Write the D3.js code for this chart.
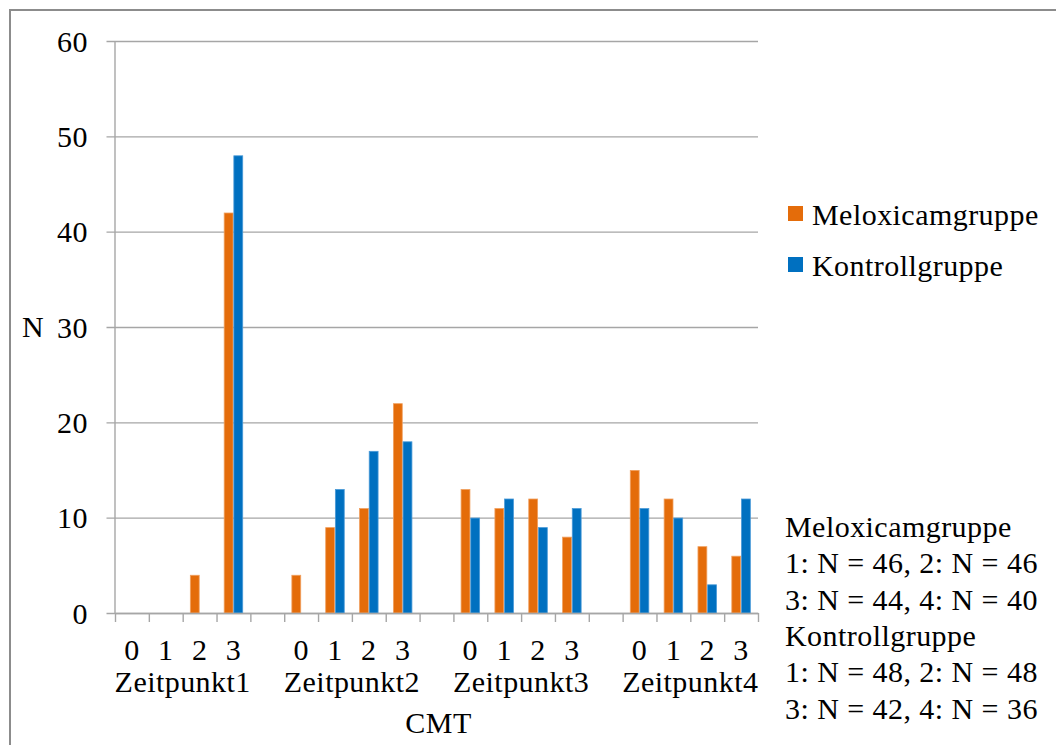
<!DOCTYPE html>
<html>
<head>
<meta charset="utf-8">
<script src="https://cdn.jsdelivr.net/npm/d3@7"></script>
<style>
    body { margin: 0; background: #fff; }
    svg text { font-family: "Liberation Serif", "Times New Roman", serif; fill: #000; letter-spacing: 0.45px; }
</style>
</head>
<body>
<svg id="chart"></svg>
<script>
// Data
const groups = ['Zeitpunkt1', 'Zeitpunkt2', 'Zeitpunkt3', 'Zeitpunkt4'];
const categories = ['0', '1', '2', '3'];
const seriesNames = ['Meloxicamgruppe', 'Kontrollgruppe'];
const meloxicam = [0, 0, 4, 42, 4, 9, 11, 22, 13, 11, 12, 8, 15, 12, 7, 6];
const kontroll = [0, 0, 0, 48, 0, 13, 17, 18, 10, 12, 9, 11, 11, 10, 3, 12];
const yTicks = [0, 10, 20, 30, 40, 50, 60];
const noteLines = [
    'Meloxicamgruppe',
    '1: N = 46, 2: N = 46',
    '3: N = 44, 4: N = 40',
    'Kontrollgruppe',
    '1: N = 48, 2: N = 48',
    '3: N = 42, 4: N = 36'
];
const colors = ['#E46C0A', '#0070C0'];
const edgeColors = ['#F0A060', '#4A9AD8'];

const W = 1056, H = 745;
const margin = { left: 115, right: 298, top: 41, bottom: 132 };
const plotW = W - margin.left - margin.right;
const plotH = H - margin.top - margin.bottom;

const svg = d3.select('#chart').attr('width', W).attr('height', H);

// outer chart border
svg.append('rect')
    .attr('x', 10).attr('y', 10)
    .attr('width', W).attr('height', H)
    .attr('fill', 'none')
    .attr('stroke', '#8c8c8c')
    .attr('stroke-width', 2);

// slots: 4 categories per group, with one empty slot between groups
let slots = [];
groups.forEach((g, gi) => {
    categories.forEach(c => slots.push(g + '|' + c));
    if (gi < groups.length - 1) slots.push('gap' + gi);
});

let rows = [];
groups.forEach((g, gi) => {
    categories.forEach((c, ci) => {
        let i = gi * categories.length + ci;
        rows.push({ slot: g + '|' + c, group: g, cat: c, values: [meloxicam[i], kontroll[i]] });
    });
});

const x0 = d3.scaleBand().domain(slots).range([0, plotW]).padding(0);
const x1 = d3.scaleBand().domain(seriesNames).range([0, x0.bandwidth()])
    .paddingInner(0).paddingOuter(0.75);
const y = d3.scaleLinear().domain([0, 60]).range([plotH, 0]);

const chart = svg.append('g')
    .attr('transform', `translate(${margin.left},${margin.top})`);

// gridlines + y labels
const yAxis = d3.axisLeft(y)
    .tickValues(yTicks)
    .tickSizeInner(-(plotW + 8.5))
    .tickSizeOuter(0)
    .tickPadding(18.5);

const yAxisG = chart.append('g')
    .attr('transform', 'translate(-8.5,0)')
    .call(yAxis);
yAxisG.select('.domain').remove();
yAxisG.selectAll('line').attr('stroke', '#a6a6a6').attr('stroke-width', 1.4);
yAxisG.selectAll('text')
    .attr('font-size', 30)
    .attr('dy', '0.34em');

// y axis line
chart.append('line')
    .attr('x1', 0).attr('x2', 0)
    .attr('y1', 0).attr('y2', plotH)
    .attr('stroke', '#a6a6a6').attr('stroke-width', 1.4);

// bars
const slotG = chart.selectAll('.slot')
    .data(rows)
    .join('g')
    .attr('class', 'slot')
    .attr('transform', d => `translate(${x0(d.slot)},0)`);

slotG.selectAll('rect')
    .data(d => d.values.map((v, i) => ({ key: seriesNames[i], value: v, i: i })))
    .join('rect')
    .filter(d => d.value > 0)
    .attr('x', d => x1(d.key) + 0.4)
    .attr('y', d => y(d.value) + 0.4)
    .attr('width', x1.bandwidth() - 0.8)
    .attr('height', d => plotH - y(d.value) - 0.4)
    .attr('fill', d => colors[d.i])
    .attr('stroke', d => edgeColors[d.i])
    .attr('stroke-width', 0.8);

// x axis with ticks at the slot boundaries
const xBounds = d3.scaleLinear().domain([0, slots.length]).range([0, plotW]);
const xAxis = d3.axisBottom(xBounds)
    .tickValues(d3.range(slots.length + 1))
    .tickFormat('')
    .tickSizeInner(9)
    .tickSizeOuter(0);
const xAxisG = chart.append('g')
    .attr('transform', `translate(0,${plotH})`)
    .call(xAxis);
xAxisG.selectAll('line, path').attr('stroke', '#a6a6a6').attr('stroke-width', 1.4);

// category labels
chart.selectAll('.cat-label')
    .data(rows)
    .join('text')
    .attr('class', 'cat-label')
    .attr('x', d => x0(d.slot) + x0.bandwidth() / 2)
    .attr('y', plotH + 47)
    .attr('text-anchor', 'middle')
    .attr('font-size', 30)
    .text(d => d.cat);

// group labels
chart.selectAll('.group-label')
    .data(groups)
    .join('text')
    .attr('class', 'group-label')
    .attr('x', g => d3.mean(categories, c => x0(g + '|' + c) + x0.bandwidth() / 2))
    .attr('y', plotH + 79)
    .attr('text-anchor', 'middle')
    .attr('font-size', 30)
    .text(g => g);

// axis titles
chart.append('text')
    .attr('x', plotW / 2 + 2)
    .attr('y', plotH + 120)
    .attr('text-anchor', 'middle')
    .attr('font-size', 30)
    .text('CMT');

svg.append('text')
    .attr('x', 33)
    .attr('y', margin.top + plotH / 2 + 10)
    .attr('text-anchor', 'middle')
    .attr('font-size', 30)
    .text('N');

// legend
const legend = svg.append('g').attr('transform', 'translate(788,206)');
const legItem = legend.selectAll('g')
    .data(seriesNames)
    .join('g')
    .attr('transform', (d, i) => `translate(0,${i * 51})`);
legItem.append('rect')
    .attr('width', 15).attr('height', 15)
    .attr('fill', (d, i) => colors[i]);
legItem.append('text')
    .attr('x', 24)
    .attr('y', 18.5)
    .attr('font-size', 30)
    .text(d => d);

// sample size note
svg.append('g')
    .selectAll('text')
    .data(noteLines)
    .join('text')
    .attr('x', 785)
    .attr('y', (d, i) => 537 + i * 36.3)
    .attr('font-size', 30)
    .text(d => d);
</script>
</body>
</html>
